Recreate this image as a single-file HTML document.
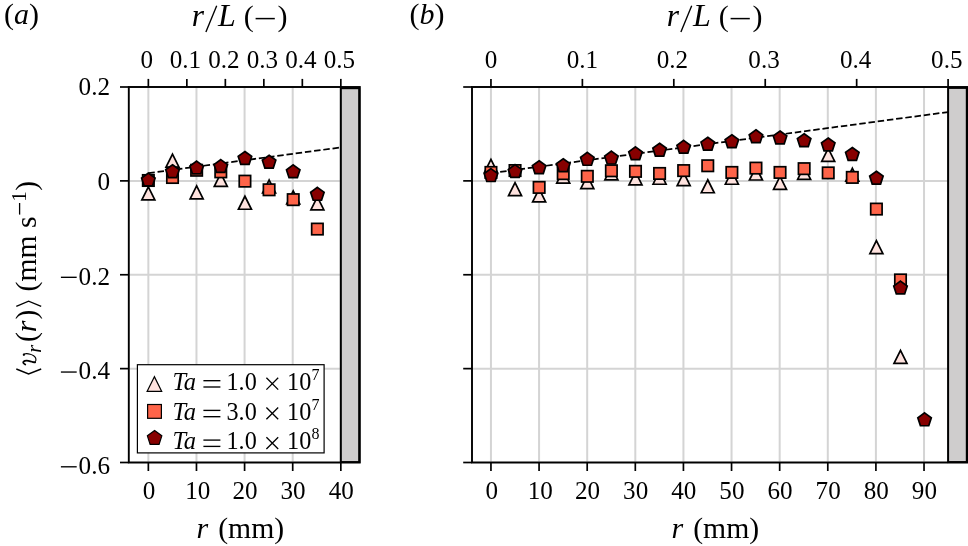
<!DOCTYPE html>
<html><head><meta charset="utf-8"><title>chart</title>
<style>
html,body{margin:0;padding:0;background:#fff;}
body{width:968px;height:546px;overflow:hidden;font-family:"Liberation Serif",serif;}
svg{display:block;will-change:transform;}
text{fill:#000;}
</style></head><body>
<svg width="968" height="546" viewBox="0 0 968 546">
<rect x="0" y="0" width="968" height="546" fill="#fff"/>
<line x1="148.35" y1="87.00" x2="148.35" y2="462.50" stroke="#d4d4d4" stroke-width="2.00"/>
<line x1="196.47" y1="87.00" x2="196.47" y2="462.50" stroke="#d4d4d4" stroke-width="2.00"/>
<line x1="244.59" y1="87.00" x2="244.59" y2="462.50" stroke="#d4d4d4" stroke-width="2.00"/>
<line x1="292.71" y1="87.00" x2="292.71" y2="462.50" stroke="#d4d4d4" stroke-width="2.00"/>
<line x1="340.83" y1="87.00" x2="340.83" y2="462.50" stroke="#d4d4d4" stroke-width="2.00"/>
<line x1="128.80" y1="87.00" x2="340.83" y2="87.00" stroke="#d4d4d4" stroke-width="2.00"/>
<line x1="128.80" y1="180.88" x2="340.83" y2="180.88" stroke="#d4d4d4" stroke-width="2.00"/>
<line x1="128.80" y1="274.75" x2="340.83" y2="274.75" stroke="#d4d4d4" stroke-width="2.00"/>
<line x1="128.80" y1="368.63" x2="340.83" y2="368.63" stroke="#d4d4d4" stroke-width="2.00"/>
<line x1="128.80" y1="462.50" x2="340.83" y2="462.50" stroke="#d4d4d4" stroke-width="2.00"/>
<rect x="340.83" y="88.20" width="18.37" height="373.90" fill="#cfcdcd" stroke="#000" stroke-width="2.00"/>
<polygon points="148.35,186.81 141.85,199.81 154.85,199.81" fill="#fee2de" stroke="#000" stroke-width="1.70" stroke-linejoin="miter"/>
<polygon points="172.50,154.05 166.00,167.05 179.00,167.05" fill="#fee2de" stroke="#000" stroke-width="1.70" stroke-linejoin="miter"/>
<polygon points="196.64,185.78 190.14,198.78 203.14,198.78" fill="#fee2de" stroke="#000" stroke-width="1.70" stroke-linejoin="miter"/>
<polygon points="220.79,173.44 214.29,186.44 227.29,186.44" fill="#fee2de" stroke="#000" stroke-width="1.70" stroke-linejoin="miter"/>
<polygon points="244.93,196.25 238.43,209.25 251.43,209.25" fill="#fee2de" stroke="#000" stroke-width="1.70" stroke-linejoin="miter"/>
<polygon points="269.08,180.01 262.58,193.01 275.58,193.01" fill="#fee2de" stroke="#000" stroke-width="1.70" stroke-linejoin="miter"/>
<polygon points="293.22,190.80 286.72,203.80 299.72,203.80" fill="#fee2de" stroke="#000" stroke-width="1.70" stroke-linejoin="miter"/>
<polygon points="317.37,196.91 310.87,209.91 323.87,209.91" fill="#fee2de" stroke="#000" stroke-width="1.70" stroke-linejoin="miter"/>
<rect x="142.65" y="174.80" width="11.40" height="11.40" fill="#fe6449" stroke="#000" stroke-width="1.70"/>
<rect x="166.80" y="171.80" width="11.40" height="11.40" fill="#fe6449" stroke="#000" stroke-width="1.70"/>
<rect x="190.94" y="164.57" width="11.40" height="11.40" fill="#fe6449" stroke="#000" stroke-width="1.70"/>
<rect x="215.09" y="166.16" width="11.40" height="11.40" fill="#fe6449" stroke="#000" stroke-width="1.70"/>
<rect x="239.23" y="175.46" width="11.40" height="11.40" fill="#fe6449" stroke="#000" stroke-width="1.70"/>
<rect x="263.38" y="184.09" width="11.40" height="11.40" fill="#fe6449" stroke="#000" stroke-width="1.70"/>
<rect x="287.52" y="193.95" width="11.40" height="11.40" fill="#fe6449" stroke="#000" stroke-width="1.70"/>
<rect x="311.67" y="223.38" width="11.40" height="11.40" fill="#fe6449" stroke="#000" stroke-width="1.70"/>
<line x1="148.35" y1="173.13" x2="340.83" y2="147.41" stroke="#000" stroke-width="1.75" stroke-dasharray="6.48 2.81"/>
<polygon points="148.35,173.12 155.10,178.02 152.52,185.96 144.18,185.96 141.60,178.02" fill="#870000" stroke="#000" stroke-width="1.70" stroke-linejoin="miter"/>
<polygon points="172.50,164.76 179.25,169.67 176.67,177.61 168.32,177.61 165.74,169.67" fill="#870000" stroke="#000" stroke-width="1.70" stroke-linejoin="miter"/>
<polygon points="196.64,161.10 203.39,166.01 200.81,173.95 192.47,173.95 189.89,166.01" fill="#870000" stroke="#000" stroke-width="1.70" stroke-linejoin="miter"/>
<polygon points="220.79,159.60 227.54,164.51 224.96,172.44 216.61,172.44 214.03,164.51" fill="#870000" stroke="#000" stroke-width="1.70" stroke-linejoin="miter"/>
<polygon points="244.93,151.48 251.69,156.39 249.11,164.32 240.76,164.32 238.18,156.39" fill="#870000" stroke="#000" stroke-width="1.70" stroke-linejoin="miter"/>
<polygon points="269.08,155.23 275.83,160.14 273.25,168.08 264.91,168.08 262.33,160.14" fill="#870000" stroke="#000" stroke-width="1.70" stroke-linejoin="miter"/>
<polygon points="293.22,164.86 299.98,169.76 297.40,177.70 289.05,177.70 286.47,169.76" fill="#870000" stroke="#000" stroke-width="1.70" stroke-linejoin="miter"/>
<polygon points="317.37,187.39 324.12,192.29 321.54,200.23 313.20,200.23 310.62,192.29" fill="#870000" stroke="#000" stroke-width="1.70" stroke-linejoin="miter"/>
<rect x="128.80" y="87.00" width="231.00" height="375.50" fill="none" stroke="#000" stroke-width="1.90"/>
<line x1="148.35" y1="462.50" x2="148.35" y2="471.00" stroke="#000" stroke-width="1.70"/>
<text x="149.05" y="498.7" font-size="25.1" text-anchor="middle" font-family="Liberation Serif, serif">0</text>
<line x1="196.47" y1="462.50" x2="196.47" y2="471.00" stroke="#000" stroke-width="1.70"/>
<text x="197.77" y="498.7" font-size="25.1" text-anchor="middle" font-family="Liberation Serif, serif">10</text>
<line x1="244.59" y1="462.50" x2="244.59" y2="471.00" stroke="#000" stroke-width="1.70"/>
<text x="244.94" y="498.7" font-size="25.1" text-anchor="middle" font-family="Liberation Serif, serif">20</text>
<line x1="292.71" y1="462.50" x2="292.71" y2="471.00" stroke="#000" stroke-width="1.70"/>
<text x="293.06" y="498.7" font-size="25.1" text-anchor="middle" font-family="Liberation Serif, serif">30</text>
<line x1="340.83" y1="462.50" x2="340.83" y2="471.00" stroke="#000" stroke-width="1.70"/>
<text x="341.18" y="498.7" font-size="25.1" text-anchor="middle" font-family="Liberation Serif, serif">40</text>
<line x1="148.35" y1="87.00" x2="148.35" y2="78.90" stroke="#000" stroke-width="1.70"/>
<text x="146.85" y="68.3" font-size="25.1" text-anchor="middle" font-family="Liberation Serif, serif">0</text>
<line x1="186.85" y1="87.00" x2="186.85" y2="78.90" stroke="#000" stroke-width="1.70"/>
<text x="185.35" y="68.3" font-size="25.1" text-anchor="middle" font-family="Liberation Serif, serif">0.1</text>
<line x1="225.34" y1="87.00" x2="225.34" y2="78.90" stroke="#000" stroke-width="1.70"/>
<text x="223.84" y="68.3" font-size="25.1" text-anchor="middle" font-family="Liberation Serif, serif">0.2</text>
<line x1="263.84" y1="87.00" x2="263.84" y2="78.90" stroke="#000" stroke-width="1.70"/>
<text x="262.34" y="68.3" font-size="25.1" text-anchor="middle" font-family="Liberation Serif, serif">0.3</text>
<line x1="302.33" y1="87.00" x2="302.33" y2="78.90" stroke="#000" stroke-width="1.70"/>
<text x="300.83" y="68.3" font-size="25.1" text-anchor="middle" font-family="Liberation Serif, serif">0.4</text>
<line x1="340.83" y1="87.00" x2="340.83" y2="78.90" stroke="#000" stroke-width="1.70"/>
<text x="339.33" y="68.3" font-size="25.1" text-anchor="middle" font-family="Liberation Serif, serif">0.5</text>
<line x1="128.80" y1="87.00" x2="120.00" y2="87.00" stroke="#000" stroke-width="1.70"/>
<line x1="128.80" y1="180.88" x2="120.00" y2="180.88" stroke="#000" stroke-width="1.70"/>
<line x1="128.80" y1="274.75" x2="120.00" y2="274.75" stroke="#000" stroke-width="1.70"/>
<line x1="128.80" y1="368.63" x2="120.00" y2="368.63" stroke="#000" stroke-width="1.70"/>
<line x1="128.80" y1="462.50" x2="120.00" y2="462.50" stroke="#000" stroke-width="1.70"/>
<line x1="490.95" y1="87.00" x2="490.95" y2="462.50" stroke="#d4d4d4" stroke-width="2.00"/>
<line x1="539.07" y1="87.00" x2="539.07" y2="462.50" stroke="#d4d4d4" stroke-width="2.00"/>
<line x1="587.19" y1="87.00" x2="587.19" y2="462.50" stroke="#d4d4d4" stroke-width="2.00"/>
<line x1="635.31" y1="87.00" x2="635.31" y2="462.50" stroke="#d4d4d4" stroke-width="2.00"/>
<line x1="683.43" y1="87.00" x2="683.43" y2="462.50" stroke="#d4d4d4" stroke-width="2.00"/>
<line x1="731.55" y1="87.00" x2="731.55" y2="462.50" stroke="#d4d4d4" stroke-width="2.00"/>
<line x1="779.67" y1="87.00" x2="779.67" y2="462.50" stroke="#d4d4d4" stroke-width="2.00"/>
<line x1="827.79" y1="87.00" x2="827.79" y2="462.50" stroke="#d4d4d4" stroke-width="2.00"/>
<line x1="875.91" y1="87.00" x2="875.91" y2="462.50" stroke="#d4d4d4" stroke-width="2.00"/>
<line x1="924.03" y1="87.00" x2="924.03" y2="462.50" stroke="#d4d4d4" stroke-width="2.00"/>
<line x1="472.00" y1="87.00" x2="948.09" y2="87.00" stroke="#d4d4d4" stroke-width="2.00"/>
<line x1="472.00" y1="180.88" x2="948.09" y2="180.88" stroke="#d4d4d4" stroke-width="2.00"/>
<line x1="472.00" y1="274.75" x2="948.09" y2="274.75" stroke="#d4d4d4" stroke-width="2.00"/>
<line x1="472.00" y1="368.63" x2="948.09" y2="368.63" stroke="#d4d4d4" stroke-width="2.00"/>
<line x1="472.00" y1="462.50" x2="948.09" y2="462.50" stroke="#d4d4d4" stroke-width="2.00"/>
<rect x="948.09" y="87.90" width="18.71" height="374.20" fill="#cfcdcd" stroke="#000" stroke-width="2.00"/>
<polygon points="490.95,159.36 484.45,172.36 497.45,172.36" fill="#fee2de" stroke="#000" stroke-width="1.70" stroke-linejoin="miter"/>
<polygon points="515.04,182.59 508.54,195.59 521.54,195.59" fill="#fee2de" stroke="#000" stroke-width="1.70" stroke-linejoin="miter"/>
<polygon points="539.13,188.93 532.63,201.93 545.63,201.93" fill="#fee2de" stroke="#000" stroke-width="1.70" stroke-linejoin="miter"/>
<polygon points="563.22,170.15 556.72,183.15 569.72,183.15" fill="#fee2de" stroke="#000" stroke-width="1.70" stroke-linejoin="miter"/>
<polygon points="587.31,175.55 580.81,188.55 593.81,188.55" fill="#fee2de" stroke="#000" stroke-width="1.70" stroke-linejoin="miter"/>
<polygon points="611.40,166.87 604.90,179.87 617.90,179.87" fill="#fee2de" stroke="#000" stroke-width="1.70" stroke-linejoin="miter"/>
<polygon points="635.49,171.93 628.99,184.93 641.99,184.93" fill="#fee2de" stroke="#000" stroke-width="1.70" stroke-linejoin="miter"/>
<polygon points="659.58,171.23 653.08,184.23 666.08,184.23" fill="#fee2de" stroke="#000" stroke-width="1.70" stroke-linejoin="miter"/>
<polygon points="683.67,172.59 677.17,185.59 690.17,185.59" fill="#fee2de" stroke="#000" stroke-width="1.70" stroke-linejoin="miter"/>
<polygon points="707.76,179.77 701.26,192.77 714.26,192.77" fill="#fee2de" stroke="#000" stroke-width="1.70" stroke-linejoin="miter"/>
<polygon points="731.86,171.23 725.36,184.23 738.36,184.23" fill="#fee2de" stroke="#000" stroke-width="1.70" stroke-linejoin="miter"/>
<polygon points="755.95,167.01 749.45,180.01 762.45,180.01" fill="#fee2de" stroke="#000" stroke-width="1.70" stroke-linejoin="miter"/>
<polygon points="780.04,176.35 773.54,189.35 786.54,189.35" fill="#fee2de" stroke="#000" stroke-width="1.70" stroke-linejoin="miter"/>
<polygon points="804.13,166.44 797.63,179.44 810.63,179.44" fill="#fee2de" stroke="#000" stroke-width="1.70" stroke-linejoin="miter"/>
<polygon points="828.22,148.28 821.72,161.28 834.72,161.28" fill="#fee2de" stroke="#000" stroke-width="1.70" stroke-linejoin="miter"/>
<polygon points="852.31,168.27 845.81,181.27 858.81,181.27" fill="#fee2de" stroke="#000" stroke-width="1.70" stroke-linejoin="miter"/>
<polygon points="876.40,240.56 869.90,253.56 882.90,253.56" fill="#fee2de" stroke="#000" stroke-width="1.70" stroke-linejoin="miter"/>
<polygon points="900.49,350.39 893.99,363.39 906.99,363.39" fill="#fee2de" stroke="#000" stroke-width="1.70" stroke-linejoin="miter"/>
<rect x="485.25" y="166.73" width="11.40" height="11.40" fill="#fe6449" stroke="#000" stroke-width="1.70"/>
<rect x="509.34" y="164.85" width="11.40" height="11.40" fill="#fe6449" stroke="#000" stroke-width="1.70"/>
<rect x="533.43" y="181.70" width="11.40" height="11.40" fill="#fe6449" stroke="#000" stroke-width="1.70"/>
<rect x="557.52" y="167.95" width="11.40" height="11.40" fill="#fe6449" stroke="#000" stroke-width="1.70"/>
<rect x="581.61" y="170.62" width="11.40" height="11.40" fill="#fe6449" stroke="#000" stroke-width="1.70"/>
<rect x="605.70" y="165.08" width="11.40" height="11.40" fill="#fe6449" stroke="#000" stroke-width="1.70"/>
<rect x="629.79" y="165.65" width="11.40" height="11.40" fill="#fe6449" stroke="#000" stroke-width="1.70"/>
<rect x="653.88" y="167.76" width="11.40" height="11.40" fill="#fe6449" stroke="#000" stroke-width="1.70"/>
<rect x="677.97" y="164.90" width="11.40" height="11.40" fill="#fe6449" stroke="#000" stroke-width="1.70"/>
<rect x="702.06" y="160.06" width="11.40" height="11.40" fill="#fe6449" stroke="#000" stroke-width="1.70"/>
<rect x="726.16" y="166.73" width="11.40" height="11.40" fill="#fe6449" stroke="#000" stroke-width="1.70"/>
<rect x="750.25" y="162.41" width="11.40" height="11.40" fill="#fe6449" stroke="#000" stroke-width="1.70"/>
<rect x="774.34" y="166.73" width="11.40" height="11.40" fill="#fe6449" stroke="#000" stroke-width="1.70"/>
<rect x="798.43" y="162.97" width="11.40" height="11.40" fill="#fe6449" stroke="#000" stroke-width="1.70"/>
<rect x="822.52" y="167.20" width="11.40" height="11.40" fill="#fe6449" stroke="#000" stroke-width="1.70"/>
<rect x="846.61" y="171.70" width="11.40" height="11.40" fill="#fe6449" stroke="#000" stroke-width="1.70"/>
<rect x="870.70" y="203.38" width="11.40" height="11.40" fill="#fe6449" stroke="#000" stroke-width="1.70"/>
<rect x="894.79" y="274.21" width="11.40" height="11.40" fill="#fe6449" stroke="#000" stroke-width="1.70"/>
<line x1="490.95" y1="173.13" x2="948.09" y2="112.04" stroke="#000" stroke-width="1.75" stroke-dasharray="6.48 2.81"/>
<polygon points="490.95,168.66 497.70,173.56 495.12,181.50 486.78,181.50 484.20,173.56" fill="#870000" stroke="#000" stroke-width="1.70" stroke-linejoin="miter"/>
<polygon points="515.04,164.62 521.79,169.53 519.21,177.47 510.87,177.47 508.29,169.53" fill="#870000" stroke="#000" stroke-width="1.70" stroke-linejoin="miter"/>
<polygon points="539.13,160.73 545.88,165.63 543.30,173.57 534.96,173.57 532.38,165.63" fill="#870000" stroke="#000" stroke-width="1.70" stroke-linejoin="miter"/>
<polygon points="563.22,158.71 569.97,163.61 567.39,171.55 559.05,171.55 556.47,163.61" fill="#870000" stroke="#000" stroke-width="1.70" stroke-linejoin="miter"/>
<polygon points="587.31,152.42 594.06,157.32 591.49,165.26 583.14,165.26 580.56,157.32" fill="#870000" stroke="#000" stroke-width="1.70" stroke-linejoin="miter"/>
<polygon points="611.40,151.15 618.16,156.06 615.58,164.00 607.23,164.00 604.65,156.06" fill="#870000" stroke="#000" stroke-width="1.70" stroke-linejoin="miter"/>
<polygon points="635.49,146.88 642.25,151.79 639.67,159.72 631.32,159.72 628.74,151.79" fill="#870000" stroke="#000" stroke-width="1.70" stroke-linejoin="miter"/>
<polygon points="659.58,143.22 666.34,148.12 663.76,156.06 655.41,156.06 652.83,148.12" fill="#870000" stroke="#000" stroke-width="1.70" stroke-linejoin="miter"/>
<polygon points="683.67,140.36 690.43,145.26 687.85,153.20 679.50,153.20 676.92,145.26" fill="#870000" stroke="#000" stroke-width="1.70" stroke-linejoin="miter"/>
<polygon points="707.76,137.26 714.52,142.16 711.94,150.10 703.59,150.10 701.01,142.16" fill="#870000" stroke="#000" stroke-width="1.70" stroke-linejoin="miter"/>
<polygon points="731.86,134.72 738.61,139.63 736.03,147.57 727.68,147.57 725.10,139.63" fill="#870000" stroke="#000" stroke-width="1.70" stroke-linejoin="miter"/>
<polygon points="755.95,129.79 762.70,134.70 760.12,142.64 751.77,142.64 749.19,134.70" fill="#870000" stroke="#000" stroke-width="1.70" stroke-linejoin="miter"/>
<polygon points="780.04,131.01 786.79,135.92 784.21,143.86 775.86,143.86 773.28,135.92" fill="#870000" stroke="#000" stroke-width="1.70" stroke-linejoin="miter"/>
<polygon points="804.13,133.74 810.88,138.64 808.30,146.58 799.95,146.58 797.37,138.64" fill="#870000" stroke="#000" stroke-width="1.70" stroke-linejoin="miter"/>
<polygon points="828.22,138.01 834.97,142.91 832.39,150.85 824.04,150.85 821.47,142.91" fill="#870000" stroke="#000" stroke-width="1.70" stroke-linejoin="miter"/>
<polygon points="852.31,147.49 859.06,152.40 856.48,160.33 848.14,160.33 845.56,152.40" fill="#870000" stroke="#000" stroke-width="1.70" stroke-linejoin="miter"/>
<polygon points="876.40,171.19 883.15,176.10 880.57,184.04 872.23,184.04 869.65,176.10" fill="#870000" stroke="#000" stroke-width="1.70" stroke-linejoin="miter"/>
<polygon points="900.49,281.07 907.24,285.98 904.66,293.92 896.32,293.92 893.74,285.98" fill="#870000" stroke="#000" stroke-width="1.70" stroke-linejoin="miter"/>
<polygon points="924.58,412.92 931.33,417.83 928.75,425.77 920.41,425.77 917.83,417.83" fill="#870000" stroke="#000" stroke-width="1.70" stroke-linejoin="miter"/>
<rect x="472.00" y="87.00" width="495.40" height="375.50" fill="none" stroke="#000" stroke-width="1.90"/>
<line x1="490.95" y1="462.50" x2="490.95" y2="471.00" stroke="#000" stroke-width="1.70"/>
<text x="491.65" y="498.7" font-size="25.1" text-anchor="middle" font-family="Liberation Serif, serif">0</text>
<line x1="539.07" y1="462.50" x2="539.07" y2="471.00" stroke="#000" stroke-width="1.70"/>
<text x="540.37" y="498.7" font-size="25.1" text-anchor="middle" font-family="Liberation Serif, serif">10</text>
<line x1="587.19" y1="462.50" x2="587.19" y2="471.00" stroke="#000" stroke-width="1.70"/>
<text x="587.54" y="498.7" font-size="25.1" text-anchor="middle" font-family="Liberation Serif, serif">20</text>
<line x1="635.31" y1="462.50" x2="635.31" y2="471.00" stroke="#000" stroke-width="1.70"/>
<text x="635.66" y="498.7" font-size="25.1" text-anchor="middle" font-family="Liberation Serif, serif">30</text>
<line x1="683.43" y1="462.50" x2="683.43" y2="471.00" stroke="#000" stroke-width="1.70"/>
<text x="683.78" y="498.7" font-size="25.1" text-anchor="middle" font-family="Liberation Serif, serif">40</text>
<line x1="731.55" y1="462.50" x2="731.55" y2="471.00" stroke="#000" stroke-width="1.70"/>
<text x="731.90" y="498.7" font-size="25.1" text-anchor="middle" font-family="Liberation Serif, serif">50</text>
<line x1="779.67" y1="462.50" x2="779.67" y2="471.00" stroke="#000" stroke-width="1.70"/>
<text x="780.02" y="498.7" font-size="25.1" text-anchor="middle" font-family="Liberation Serif, serif">60</text>
<line x1="827.79" y1="462.50" x2="827.79" y2="471.00" stroke="#000" stroke-width="1.70"/>
<text x="828.14" y="498.7" font-size="25.1" text-anchor="middle" font-family="Liberation Serif, serif">70</text>
<line x1="875.91" y1="462.50" x2="875.91" y2="471.00" stroke="#000" stroke-width="1.70"/>
<text x="876.26" y="498.7" font-size="25.1" text-anchor="middle" font-family="Liberation Serif, serif">80</text>
<line x1="924.03" y1="462.50" x2="924.03" y2="471.00" stroke="#000" stroke-width="1.70"/>
<text x="924.38" y="498.7" font-size="25.1" text-anchor="middle" font-family="Liberation Serif, serif">90</text>
<line x1="490.95" y1="87.00" x2="490.95" y2="78.90" stroke="#000" stroke-width="1.70"/>
<text x="490.95" y="68.3" font-size="25.1" text-anchor="middle" font-family="Liberation Serif, serif">0</text>
<line x1="582.38" y1="87.00" x2="582.38" y2="78.90" stroke="#000" stroke-width="1.70"/>
<text x="582.38" y="68.3" font-size="25.1" text-anchor="middle" font-family="Liberation Serif, serif">0.1</text>
<line x1="673.81" y1="87.00" x2="673.81" y2="78.90" stroke="#000" stroke-width="1.70"/>
<text x="672.41" y="68.3" font-size="25.1" text-anchor="middle" font-family="Liberation Serif, serif">0.2</text>
<line x1="765.23" y1="87.00" x2="765.23" y2="78.90" stroke="#000" stroke-width="1.70"/>
<text x="764.03" y="68.3" font-size="25.1" text-anchor="middle" font-family="Liberation Serif, serif">0.3</text>
<line x1="856.66" y1="87.00" x2="856.66" y2="78.90" stroke="#000" stroke-width="1.70"/>
<text x="855.66" y="68.3" font-size="25.1" text-anchor="middle" font-family="Liberation Serif, serif">0.4</text>
<line x1="948.09" y1="87.00" x2="948.09" y2="78.90" stroke="#000" stroke-width="1.70"/>
<text x="946.79" y="68.3" font-size="25.1" text-anchor="middle" font-family="Liberation Serif, serif">0.5</text>
<line x1="472.00" y1="87.00" x2="463.20" y2="87.00" stroke="#000" stroke-width="1.70"/>
<line x1="472.00" y1="180.88" x2="463.20" y2="180.88" stroke="#000" stroke-width="1.70"/>
<line x1="472.00" y1="274.75" x2="463.20" y2="274.75" stroke="#000" stroke-width="1.70"/>
<line x1="472.00" y1="368.63" x2="463.20" y2="368.63" stroke="#000" stroke-width="1.70"/>
<line x1="472.00" y1="462.50" x2="463.20" y2="462.50" stroke="#000" stroke-width="1.70"/>
<text x="110.1" y="95.00" font-size="25.2" text-anchor="end" font-family="Liberation Serif, serif">0.2</text>
<text x="110.1" y="189.75" font-size="25.2" text-anchor="end" font-family="Liberation Serif, serif">0</text>
<text x="110.1" y="284.50" font-size="25.2" text-anchor="end" font-family="Liberation Serif, serif">0.2</text>
<line x1="60.9" y1="277.30" x2="76.7" y2="277.30" stroke="#000" stroke-width="1.35"/>
<text x="110.1" y="379.25" font-size="25.2" text-anchor="end" font-family="Liberation Serif, serif">0.4</text>
<line x1="60.9" y1="372.05" x2="76.7" y2="372.05" stroke="#000" stroke-width="1.35"/>
<text x="110.1" y="474.00" font-size="25.2" text-anchor="end" font-family="Liberation Serif, serif">0.6</text>
<line x1="60.9" y1="466.80" x2="76.7" y2="466.80" stroke="#000" stroke-width="1.35"/>
<text x="196.50" y="537.80" font-size="30" font-family="Liberation Serif, serif"><tspan font-style="italic">r</tspan></text>
<text x="218.20" y="537.80" font-size="29.7" font-family="Liberation Serif, serif">(mm)</text>
<text x="671.50" y="537.80" font-size="30" font-family="Liberation Serif, serif"><tspan font-style="italic">r</tspan></text>
<text x="693.20" y="537.80" font-size="29.7" font-family="Liberation Serif, serif">(mm)</text>
<text x="191.70" y="26.00" font-size="31.5" font-family="Liberation Serif, serif"><tspan font-style="italic">r</tspan></text>
<line x1="205.90" y1="31.90" x2="216.70" y2="5.70" stroke="#000" stroke-width="1.35"/>
<text x="218.00" y="26.00" font-size="32" font-family="Liberation Serif, serif"><tspan font-style="italic">L</tspan></text>
<text x="243.80" y="26.00" font-size="30" font-family="Liberation Serif, serif">(</text>
<line x1="255.60" y1="18.60" x2="274.80" y2="18.60" stroke="#000" stroke-width="1.5"/>
<text x="277.40" y="26.00" font-size="30" font-family="Liberation Serif, serif">)</text>
<text x="666.70" y="26.00" font-size="31.5" font-family="Liberation Serif, serif"><tspan font-style="italic">r</tspan></text>
<line x1="680.90" y1="31.90" x2="691.70" y2="5.70" stroke="#000" stroke-width="1.35"/>
<text x="693.00" y="26.00" font-size="32" font-family="Liberation Serif, serif"><tspan font-style="italic">L</tspan></text>
<text x="718.80" y="26.00" font-size="30" font-family="Liberation Serif, serif">(</text>
<line x1="730.60" y1="18.60" x2="749.80" y2="18.60" stroke="#000" stroke-width="1.5"/>
<text x="752.40" y="26.00" font-size="30" font-family="Liberation Serif, serif">)</text>
<text x="4.00" y="24.30" font-size="30" font-family="Liberation Serif, serif">(<tspan font-style="italic">a</tspan>)</text>
<text x="409.50" y="24.30" font-size="30" font-family="Liberation Serif, serif">(<tspan font-style="italic">b</tspan>)</text>
<g transform="translate(35.8,374.7) rotate(-90)">
<polyline points="5.7,-19.5 0.8,-7.2 5.7,5.4" fill="none" stroke="#000" stroke-width="1.35"/>
<text x="21.9" y="4.9" font-size="20.5" font-family="Liberation Serif, serif"><tspan font-style="italic">r</tspan></text>
<text x="32.6" y="0" font-size="29.7" font-family="Liberation Serif, serif">(</text>
<text x="42.5" y="0" font-size="30" font-family="Liberation Serif, serif"><tspan font-style="italic">r</tspan></text>
<text x="55.3" y="0" font-size="29.7" font-family="Liberation Serif, serif">)</text>
<polyline points="68.4,-19.5 73.5,-7.2 68.4,5.4" fill="none" stroke="#000" stroke-width="1.35"/>
<text x="83.3" y="0" font-size="29.7" font-family="Liberation Serif, serif">(mm s</text>
<line x1="160.1" y1="-16.2" x2="171.7" y2="-16.2" stroke="#000" stroke-width="1.3"/>
<text x="173.0" y="-10.3" font-size="21" font-family="Liberation Serif, serif">1</text>
<text x="183.9" y="0" font-size="29.7" font-family="Liberation Serif, serif">)</text>
</g>
<path d="M25.26 364.56 Q23.07 363.35 23.15 362.45 Q23.23 361.54 24.80 360.93 Q26.36 360.33 28.42 360.82 Q30.48 361.32 31.86 361.79 Q33.23 362.25 34.19 362.34 L35.15 362.42" fill="none" stroke="#000" stroke-width="1.75" stroke-linecap="round" stroke-linejoin="round"/>
<path d="M33.23 362.25 Q35.54 362.25 35.81 360.74 Q36.09 359.23 35.62 357.99 Q35.15 356.76 33.64 355.74 Q32.13 354.73 30.21 354.23 Q28.29 353.74 26.77 353.65 Q25.26 353.57 24.52 353.98 L23.78 354.40" fill="none" stroke="#000" stroke-width="1.15" stroke-linecap="round" stroke-linejoin="round"/>
<circle cx="23.89" cy="354.73" r="1.15" fill="#000"/>
<rect x="137.4" y="364.7" width="186.7" height="88.2" fill="#fff" stroke="#000" stroke-width="1.2"/>
<polygon points="154.40,376.75 147.15,391.25 161.65,391.25" fill="#fee2de" stroke="#000" stroke-width="1.25" stroke-linejoin="miter"/>
<rect x="147.60" y="404.50" width="13.80" height="13.80" fill="#fe6449" stroke="#000" stroke-width="1.20"/>
<polygon points="154.60,430.60 161.83,435.85 159.07,444.35 150.13,444.35 147.37,435.85" fill="#870000" stroke="#000" stroke-width="1.20" stroke-linejoin="miter"/>
<text x="172.4" y="389.80" font-size="24.5" font-family="Liberation Serif, serif"><tspan font-style="italic">Ta</tspan></text>
<line x1="203.4" y1="380.70" x2="220.4" y2="380.70" stroke="#000" stroke-width="1.35"/>
<line x1="203.4" y1="387.00" x2="220.4" y2="387.00" stroke="#000" stroke-width="1.35"/>
<text x="226.5" y="389.80" font-size="24.2" font-family="Liberation Serif, serif">1.0</text>
<path d="M266.40 377.80 L278.20 389.60 M266.40 389.60 L278.20 377.80" stroke="#000" stroke-width="1.3" fill="none"/>
<text x="287.1" y="389.80" font-size="24.2" font-family="Liberation Serif, serif">10</text>
<text x="311.6" y="379.80" font-size="16" font-family="Liberation Serif, serif">7</text>
<text x="172.4" y="419.50" font-size="24.5" font-family="Liberation Serif, serif"><tspan font-style="italic">Ta</tspan></text>
<line x1="203.4" y1="410.40" x2="220.4" y2="410.40" stroke="#000" stroke-width="1.35"/>
<line x1="203.4" y1="416.70" x2="220.4" y2="416.70" stroke="#000" stroke-width="1.35"/>
<text x="226.5" y="419.50" font-size="24.2" font-family="Liberation Serif, serif">3.0</text>
<path d="M266.40 407.50 L278.20 419.30 M266.40 419.30 L278.20 407.50" stroke="#000" stroke-width="1.3" fill="none"/>
<text x="287.1" y="419.50" font-size="24.2" font-family="Liberation Serif, serif">10</text>
<text x="311.6" y="409.50" font-size="16" font-family="Liberation Serif, serif">7</text>
<text x="172.4" y="449.20" font-size="24.5" font-family="Liberation Serif, serif"><tspan font-style="italic">Ta</tspan></text>
<line x1="203.4" y1="440.10" x2="220.4" y2="440.10" stroke="#000" stroke-width="1.35"/>
<line x1="203.4" y1="446.40" x2="220.4" y2="446.40" stroke="#000" stroke-width="1.35"/>
<text x="226.5" y="449.20" font-size="24.2" font-family="Liberation Serif, serif">1.0</text>
<path d="M266.40 437.20 L278.20 449.00 M266.40 449.00 L278.20 437.20" stroke="#000" stroke-width="1.3" fill="none"/>
<text x="287.1" y="449.20" font-size="24.2" font-family="Liberation Serif, serif">10</text>
<text x="311.6" y="439.20" font-size="16" font-family="Liberation Serif, serif">8</text>
</svg>
</body></html>
